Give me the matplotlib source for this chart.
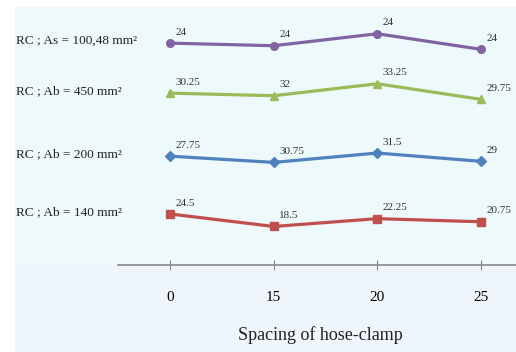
import numpy as np
import matplotlib.pyplot as plt
from matplotlib.patches import Rectangle

plt.rcParams['font.family'] = ['Liberation Serif', 'DejaVu Serif']

spacing = ['0', '15', '20', '25']
series_names = ['RC ; Ab = 140 mm²', 'RC ; Ab = 200 mm²',
                'RC ; Ab = 450 mm²', 'RC ; As = 100,48 mm²']
ab140 = [24.5, 18.5, 22.25, 20.75]
ab200 = [27.75, 30.75, 31.5, 29]
ab450 = [30.25, 32, 33.25, 29.75]
as100 = [24, 24, 24, 24]

colors = ['#c0504d', '#4f81bd', '#9bbb59', '#8064a2']
markers = ['s', 'D', '^', 'o']
msizes = [6, 5, 6, 5.5]

W, H = 516, 352
fig = plt.figure(figsize=(5.16, 3.52), dpi=100)
fig.patch.set_facecolor('white')
# chart background: cyan-ish upper part, bluish lower part
fig.patches.append(Rectangle((15 / W, 0), 1, 1 - 265 / H, transform=fig.transFigure,
                             facecolor='#eef5fb', edgecolor='none', zorder=-10))
fig.patches.append(Rectangle((15 / W, 1 - 265 / H), 1, (265 - 7) / H, transform=fig.transFigure,
                             facecolor='#eef9fc', edgecolor='none', zorder=-10))

left, right, bottom, top = 118, 533, 265, 15
ax = fig.add_axes([left / W, 1 - bottom / H, (right - left) / W, (bottom - top) / H])
ax.patch.set_visible(False)

x = np.arange(len(spacing))
raw = [ab140, ab200, ab450, as100]
stacked = np.cumsum(raw, axis=0)

for i in range(4):
    ax.plot(x, stacked[i], color=colors[i], marker=markers[i], ms=msizes[i], lw=2.3)
    for j in range(4):
        ax.annotate('%g' % raw[i][j], (x[j], stacked[i][j]), xytext=(4, 6),
                    textcoords='offset points', fontsize=8, color='#333333')
    ax.text(-1.48, stacked[i][0] + 1, series_names[i], fontsize=9.5, va='center',
            ha='left', color='#222222', clip_on=False)

ax.set_xlim(-0.5, 3.5)
ax.set_ylim(0, 120)
ax.set_xticks(x)
ax.set_xticklabels(spacing, fontsize=11)
ax.tick_params(axis='x', direction='inout', length=7, color='#888888', pad=15)
ax.set_yticks([])
for s in ['top', 'right', 'left']:
    ax.spines[s].set_visible(False)
ax.spines['bottom'].set_color('#888888')
ax.spines['bottom'].set_linewidth(1.2)

fig.text(320 / W, 1 - 335 / H, 'Spacing of hose-clamp', fontsize=13, ha='center',
         va='center', color='#222222')

fig.savefig('out.png', dpi=100)
